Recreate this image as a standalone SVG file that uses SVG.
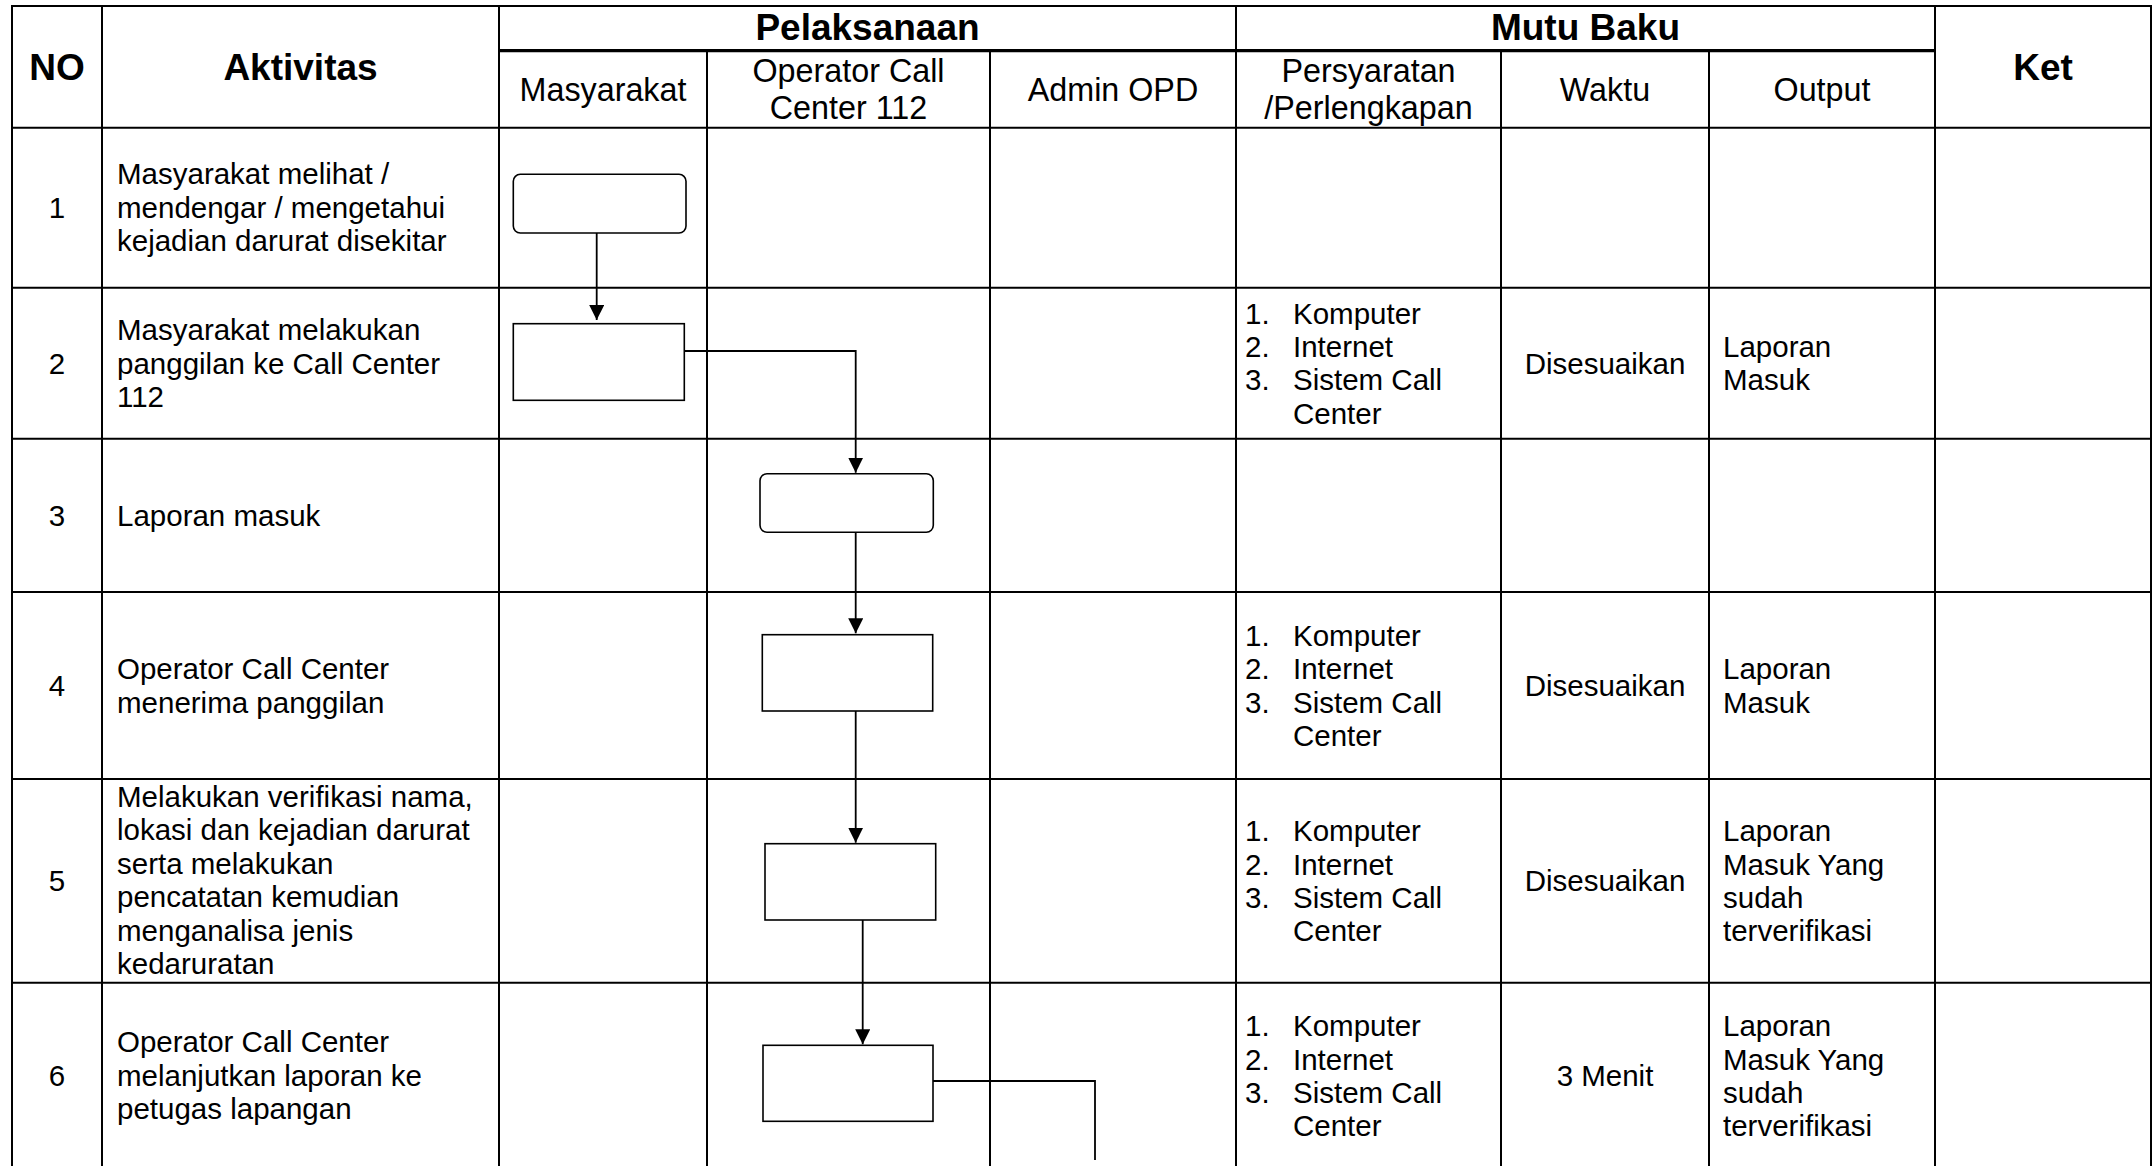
<svg xmlns="http://www.w3.org/2000/svg" width="2154" height="1166" viewBox="0 0 2154 1166">
  <style>
    text { font-family: "Liberation Sans", Arial, sans-serif; fill: #000; }
    .h1 { font-size: 37px; font-weight: bold; text-anchor: middle; }
    .h2 { font-size: 32.3px; text-anchor: middle; }
    .t { font-size: 29.5px; }
    .c { text-anchor: middle; }
    .grid line { stroke: #000; stroke-width: 2; }
    .grid line.split { stroke-width: 3.2; }
    .box { fill: #fff; stroke: #000; stroke-width: 1.6; }
    .conn path { fill: none; stroke: #000; stroke-width: 1.8; }
  </style>
  <defs>
    <marker id="arrow" markerUnits="userSpaceOnUse" viewBox="0 0 15 15" markerWidth="15" markerHeight="15" refX="15" refY="7.5" orient="auto">
      <path d="M0,0 L15,7.5 L0,15 z" fill="#000"/>
    </marker>
  </defs>
  <rect width="2154" height="1166" fill="#fff"/>

  <!-- table grid -->
  <g class="grid" id="grid">
    <line x1="11" y1="6" x2="2152" y2="6"/>
    <line class="split" x1="499" y1="50.7" x2="1935" y2="50.7"/>
    <line x1="11" y1="127.7" x2="2152" y2="127.7"/>
    <line x1="11" y1="287.7" x2="2152" y2="287.7"/>
    <line x1="11" y1="438.7" x2="2152" y2="438.7"/>
    <line x1="11" y1="592" x2="2152" y2="592"/>
    <line x1="11" y1="779" x2="2152" y2="779"/>
    <line x1="11" y1="982.7" x2="2152" y2="982.7"/>
    <line x1="12" y1="5" x2="12" y2="1166"/>
    <line x1="102" y1="5" x2="102" y2="1166"/>
    <line x1="499" y1="5" x2="499" y2="1166"/>
    <line x1="707" y1="50.7" x2="707" y2="1166"/>
    <line x1="990" y1="50.7" x2="990" y2="1166"/>
    <line x1="1236" y1="5" x2="1236" y2="1166"/>
    <line x1="1501" y1="50.7" x2="1501" y2="1166"/>
    <line x1="1709" y1="50.7" x2="1709" y2="1166"/>
    <line x1="1935" y1="5" x2="1935" y2="1166"/>
    <line x1="2151" y1="5" x2="2151" y2="1166"/>
  </g>

  <!-- header -->
  <g id="header">
    <text class="h1" x="57" y="80">NO</text>
    <text class="h1" x="300.5" y="80">Aktivitas</text>
    <text class="h1" x="867.5" y="40">Pelaksanaan</text>
    <text class="h1" x="1585.5" y="40">Mutu Baku</text>
    <text class="h1" x="2043" y="80">Ket</text>
    <text class="h2" x="603" y="100.5">Masyarakat</text>
    <text class="h2" x="848.5" y="82">Operator Call</text>
    <text class="h2" x="848.5" y="119">Center 112</text>
    <text class="h2" x="1113" y="100.5">Admin OPD</text>
    <text class="h2" x="1368.5" y="82">Persyaratan</text>
    <text class="h2" x="1368.5" y="119">/Perlengkapan</text>
    <text class="h2" x="1605" y="100.5">Waktu</text>
    <text class="h2" x="1822" y="100.5">Output</text>
  </g>

  <!-- row 1 -->
  <g id="row1">
    <text class="t c" x="57" y="217.5">1</text>
    <text class="t" x="117" y="184">Masyarakat melihat /</text>
    <text class="t" x="117" y="217.5">mendengar / mengetahui</text>
    <text class="t" x="117" y="251">kejadian darurat disekitar</text>
  </g>

  <!-- row 2 -->
  <g id="row2">
    <text class="t c" x="57" y="373.7">2</text>
    <text class="t" x="117" y="340.3">Masyarakat melakukan</text>
    <text class="t" x="117" y="373.7">panggilan ke Call Center</text>
    <text class="t" x="117" y="407.1">112</text>
    <text class="t" x="1245" y="323.6">1.</text>
    <text class="t" x="1293" y="323.6">Komputer</text>
    <text class="t" x="1245" y="357">2.</text>
    <text class="t" x="1293" y="357">Internet</text>
    <text class="t" x="1245" y="390.4">3.</text>
    <text class="t" x="1293" y="390.4">Sistem Call</text>
    <text class="t" x="1293" y="423.8">Center</text>
    <text class="t c" x="1605" y="373.7">Disesuaikan</text>
    <text class="t" x="1723" y="357">Laporan</text>
    <text class="t" x="1723" y="390.4">Masuk</text>
  </g>

  <!-- row 3 -->
  <g id="row3">
    <text class="t c" x="57" y="525.8">3</text>
    <text class="t" x="117" y="525.8">Laporan masuk</text>
  </g>

  <!-- row 4 -->
  <g id="row4">
    <text class="t c" x="57" y="696">4</text>
    <text class="t" x="117" y="679.3">Operator Call Center</text>
    <text class="t" x="117" y="712.7">menerima panggilan</text>
    <text class="t" x="1245" y="645.9">1.</text>
    <text class="t" x="1293" y="645.9">Komputer</text>
    <text class="t" x="1245" y="679.3">2.</text>
    <text class="t" x="1293" y="679.3">Internet</text>
    <text class="t" x="1245" y="712.7">3.</text>
    <text class="t" x="1293" y="712.7">Sistem Call</text>
    <text class="t" x="1293" y="746.1">Center</text>
    <text class="t c" x="1605" y="696">Disesuaikan</text>
    <text class="t" x="1723" y="679.3">Laporan</text>
    <text class="t" x="1723" y="712.7">Masuk</text>
  </g>

  <!-- row 5 -->
  <g id="row5">
    <text class="t c" x="57" y="891">5</text>
    <text class="t" x="117" y="807">Melakukan verifikasi nama,</text>
    <text class="t" x="117" y="840.4">lokasi dan kejadian darurat</text>
    <text class="t" x="117" y="873.8">serta melakukan</text>
    <text class="t" x="117" y="907.2">pencatatan kemudian</text>
    <text class="t" x="117" y="940.6">menganalisa jenis</text>
    <text class="t" x="117" y="974">kedaruratan</text>
    <text class="t" x="1245" y="841.2">1.</text>
    <text class="t" x="1293" y="841.2">Komputer</text>
    <text class="t" x="1245" y="874.6">2.</text>
    <text class="t" x="1293" y="874.6">Internet</text>
    <text class="t" x="1245" y="908">3.</text>
    <text class="t" x="1293" y="908">Sistem Call</text>
    <text class="t" x="1293" y="941.4">Center</text>
    <text class="t c" x="1605" y="891.3">Disesuaikan</text>
    <text class="t" x="1723" y="841.2">Laporan</text>
    <text class="t" x="1723" y="874.6">Masuk Yang</text>
    <text class="t" x="1723" y="908">sudah</text>
    <text class="t" x="1723" y="941.4">terverifikasi</text>
  </g>

  <!-- row 6 -->
  <g id="row6">
    <text class="t c" x="57" y="1086">6</text>
    <text class="t" x="117" y="1052.2">Operator Call Center</text>
    <text class="t" x="117" y="1085.6">melanjutkan laporan ke</text>
    <text class="t" x="117" y="1119">petugas lapangan</text>
    <text class="t" x="1245" y="1036.2">1.</text>
    <text class="t" x="1293" y="1036.2">Komputer</text>
    <text class="t" x="1245" y="1069.6">2.</text>
    <text class="t" x="1293" y="1069.6">Internet</text>
    <text class="t" x="1245" y="1103">3.</text>
    <text class="t" x="1293" y="1103">Sistem Call</text>
    <text class="t" x="1293" y="1136.4">Center</text>
    <text class="t c" x="1605" y="1086">3 Menit</text>
    <text class="t" x="1723" y="1036.2">Laporan</text>
    <text class="t" x="1723" y="1069.6">Masuk Yang</text>
    <text class="t" x="1723" y="1103">sudah</text>
    <text class="t" x="1723" y="1136.4">terverifikasi</text>
  </g>

  <!-- connectors -->
  <g class="conn" id="connectors">
    <path d="M596.7,233 V320" marker-end="url(#arrow)"/>
    <path d="M684.3,351 H855.7 V472.7" marker-end="url(#arrow)"/>
    <path d="M855.7,532.3 V633.3" marker-end="url(#arrow)"/>
    <path d="M855.7,711 V842.7" marker-end="url(#arrow)"/>
    <path d="M862.7,920 V1044.3" marker-end="url(#arrow)"/>
    <path d="M933,1081 H1095 V1160"/>
  </g>

  <!-- process shapes -->
  <g id="node1"><rect class="box" x="513.3" y="174.3" width="172.7" height="58.7" rx="7"/></g>
  <g id="node2"><rect class="box" x="513.3" y="323.7" width="171" height="76.6"/></g>
  <g id="node3"><rect class="box" x="760" y="473.7" width="173.3" height="58.6" rx="7"/></g>
  <g id="node4"><rect class="box" x="762.3" y="634.7" width="170.4" height="76.3"/></g>
  <g id="node5"><rect class="box" x="765" y="843.7" width="170.7" height="76.3"/></g>
  <g id="node6"><rect class="box" x="763" y="1045.3" width="170" height="76"/></g>
</svg>
